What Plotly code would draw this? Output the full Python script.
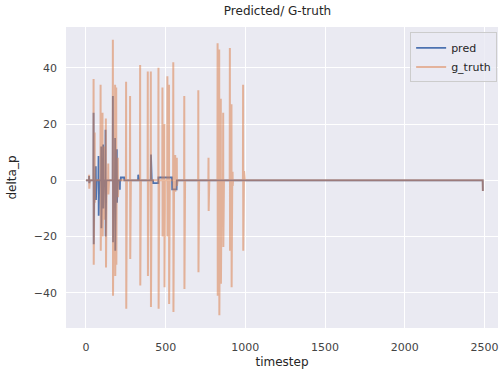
import numpy as np
import plotly.graph_objects as go

# timesteps 0..2490
n_steps = 2491

# ground-truth spikes: timestep, peak value, following trough value
gt_spike_t = [20, 48, 55, 92, 104, 112, 125, 140, 169, 183, 190, 200, 252, 277, 340, 388,
              407, 455, 480, 492, 511, 521, 548, 560, 570, 617, 705, 769, 826, 836, 846,
              861, 903, 913, 920, 986, 992]
gt_spike_hi = [2, 36, 17, 34, 24, 12, 22, 6, 50, 34, 33, 8, 35, 30, 41, 38.7,
               38.7, 40, 33, 20, 37, 34, 42, 9, 8, 30, 32, 8, 48.7, 46.5, 29,
               24, 47, 27, 3, 34, 3.3]
gt_spike_lo = [-3, -30, -8, -25, -20, -14, -31, -5, -41, -34, -30, -6, -45.7, -28, -37.4, -34,
               -45, -45.7, -20, -38, -20, -44, -46.8, -4, -2, -38.6, -32.7, -10.9, -41, -48, -36.8,
               -23.7, -25, -38, -2, -25, 0]

# predicted spikes
pred_spike_t = [20, 48, 62, 79, 96, 108, 123, 169, 183, 194, 328, 408]
pred_spike_hi = [1.5, 24, 5, 8.6, 12, 12.7, 18, 30, 15, 11, 2, 9.2]
pred_spike_lo = [-1, -22.7, -7, -12.6, -17, -10, -20, -22, -25, -8, 0, 0]

# predicted flat offsets: start, end, value
pred_step_start = [212, 219, 422, 455, 541, 2490]
pred_step_end = [213, 240, 454, 540, 569, 2490]
pred_step_val = [-3, 1, -1, 1, -3.2, -3.8]

end_dip = -3.8

timestep = np.arange(n_steps)
g_truth = np.zeros(n_steps)
for t, hi, lo in zip(gt_spike_t, gt_spike_hi, gt_spike_lo):
    g_truth[t] = hi
    g_truth[t + 1] = lo
g_truth[-1] = end_dip

pred = np.zeros(n_steps)
for t, hi, lo in zip(pred_spike_t, pred_spike_hi, pred_spike_lo):
    pred[t] = hi
    pred[t + 1] = lo
for s, e, v in zip(pred_step_start, pred_step_end, pred_step_val):
    pred[s:e + 1] = v

fig = go.Figure()
fig.add_trace(go.Scatter(x=timestep, y=pred, mode="lines", name="pred",
                         line=dict(color="#4c72b0", width=1.8)))
fig.add_trace(go.Scatter(x=timestep, y=g_truth, mode="lines", name="g_truth", opacity=0.55,
                         line=dict(color="#dd8452", width=2)))

fig.update_layout(
    width=500, height=376,
    margin=dict(l=66, r=2, t=27, b=48),
    paper_bgcolor="white", plot_bgcolor="#eaeaf2",
    font=dict(family="DejaVu Sans", size=11, color="#262626"),
    title=dict(text="Predicted/ G-truth", x=0.555, xanchor="center",
               y=0.971, yanchor="middle",
               font=dict(size=12, color="#262626")),
    showlegend=True,
    legend=dict(x=0.998, y=0.982, xanchor="right", yanchor="top",
                bgcolor="rgba(234,234,242,0.8)", bordercolor="#cccccc", borderwidth=1,
                font=dict(size=11), tracegroupgap=0),
)
fig.update_xaxes(range=[-125, 2585], tickvals=[0, 500, 1000, 1500, 2000, 2500],
                 showgrid=True, gridcolor="white", gridwidth=1, zeroline=False,
                 showline=False, ticks="", tickfont=dict(size=11, color="#444444"),
                 automargin=False, ticklabelstandoff=11,
                 title=dict(text="timestep", font=dict(size=12), standoff=4))
fig.update_yaxes(range=[-52.5, 54.5], tickvals=[-40, -20, 0, 20, 40],
                 showgrid=True, gridcolor="white", gridwidth=1, zeroline=False,
                 showline=False, ticks="", tickfont=dict(size=11, color="#444444"),
                 automargin=False, ticklabelstandoff=8,
                 title=dict(text="delta_p", font=dict(size=12), standoff=14))

fig.write_html("out.html", config={"displayModeBar": False},
               post_script="document.body.style.margin='0';")
